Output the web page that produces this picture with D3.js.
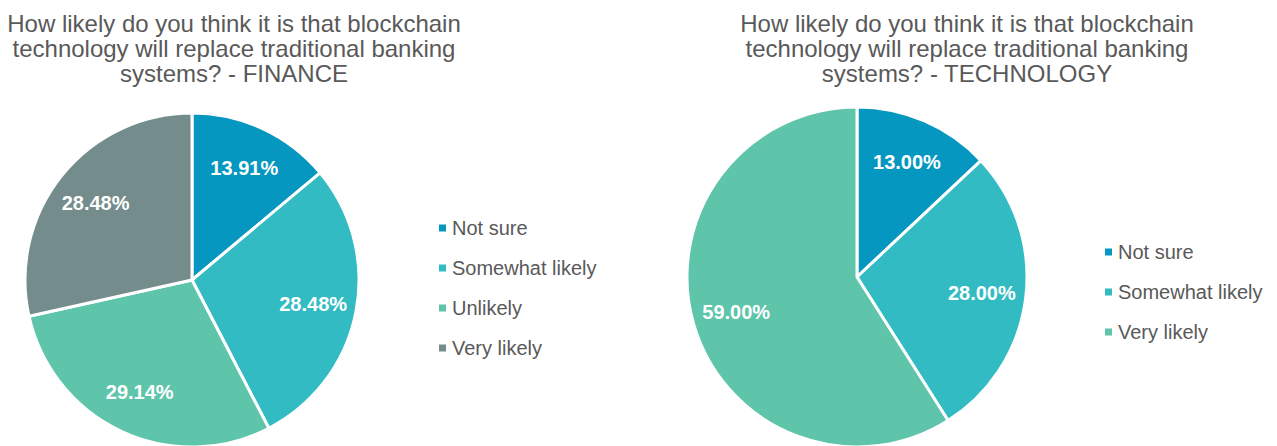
<!DOCTYPE html>
<html>
<head>
<meta charset="utf-8">
<script src="https://cdn.jsdelivr.net/npm/d3@7"></script>
<style>
  html, body { margin: 0; padding: 0; background: #ffffff; }
  svg { display: block; font-family: "Liberation Sans", Arial, Helvetica, sans-serif; }
</style>
</head>
<body>
<svg id="chart" width="1277" height="446"></svg>
<script>
// Survey answers, in slice order (clockwise from 12 o'clock)
const financeCategories = ["Not sure", "Somewhat likely", "Unlikely", "Very likely"];
const financeValues = [13.91, 28.48, 29.14, 28.48];

const techCategories = ["Not sure", "Somewhat likely", "Very likely"];
const techValues = [13.00, 28.00, 59.00];

const titleLines = [
  "How likely do you think it is that blockchain",
  "technology will replace traditional banking"
];
const financeSuffix = "systems? - FINANCE";
const techSuffix = "systems? - TECHNOLOGY";

// Point colours are assigned by position within each pie
const palette = ["#0597bf", "#33bbc3", "#5ec4aa", "#748c8b"];

const svg = d3.select("#chart");

function drawPie(opts) {
  const { categories, values, cx, cy, r, titleX, lastLine, legendX, legendY } = opts;
  const color = d3.scaleOrdinal().domain(d3.range(values.length)).range(palette);

  // Title
  const title = svg.append("text")
    .attr("text-anchor", "middle")
    .attr("fill", "#595959")
    .style("font-size", "24px");
  titleLines.concat([lastLine]).forEach((line, i) => {
    title.append("tspan").attr("x", titleX).attr("y", 32 + i * 25).text(line);
  });

  const pie = d3.pie().sort(null).value(d => d).startAngle(0).endAngle(2 * Math.PI);
  const arcs = pie(values);
  const arc = d3.arc().innerRadius(0).outerRadius(r);
  const labelArc = d3.arc().innerRadius(r * 0.74).outerRadius(r * 0.74);

  const g = svg.append("g").attr("transform", `translate(${cx},${cy})`);

  g.selectAll("path")
    .data(arcs)
    .join("path")
    .attr("d", arc)
    .attr("fill", (d, i) => color(i))
    .attr("stroke", "#ffffff")
    .attr("stroke-width", 3)
    .attr("stroke-linejoin", "round");

  g.selectAll("text.val")
    .data(arcs)
    .join("text")
    .attr("class", "val")
    .attr("transform", d => `translate(${labelArc.centroid(d)})`)
    .attr("text-anchor", "middle")
    .attr("dy", "0.36em")
    .attr("fill", "#ffffff")
    .style("font-size", "20px")
    .style("font-weight", "bold")
    .text(d => d.data.toFixed(2) + "%");

  // Legend
  const lg = svg.append("g").attr("transform", `translate(${legendX},${legendY})`);
  const rows = lg.selectAll("g")
    .data(categories)
    .join("g")
    .attr("transform", (d, i) => `translate(0,${i * 40})`);
  rows.append("rect")
    .attr("x", 0).attr("y", -3.5)
    .attr("width", 7).attr("height", 7)
    .attr("fill", (d, i) => color(i));
  rows.append("text")
    .attr("x", 13)
    .attr("dy", "0.36em")
    .attr("fill", "#595959")
    .style("font-size", "20px")
    .text(d => d);
}

drawPie({
  categories: financeCategories, values: financeValues,
  cx: 192, cy: 280, r: 167,
  titleX: 234, lastLine: financeSuffix,
  legendX: 439, legendY: 228
});

drawPie({
  categories: techCategories, values: techValues,
  cx: 857, cy: 277, r: 170,
  titleX: 967, lastLine: techSuffix,
  legendX: 1105, legendY: 252
});
</script>
</body>
</html>
